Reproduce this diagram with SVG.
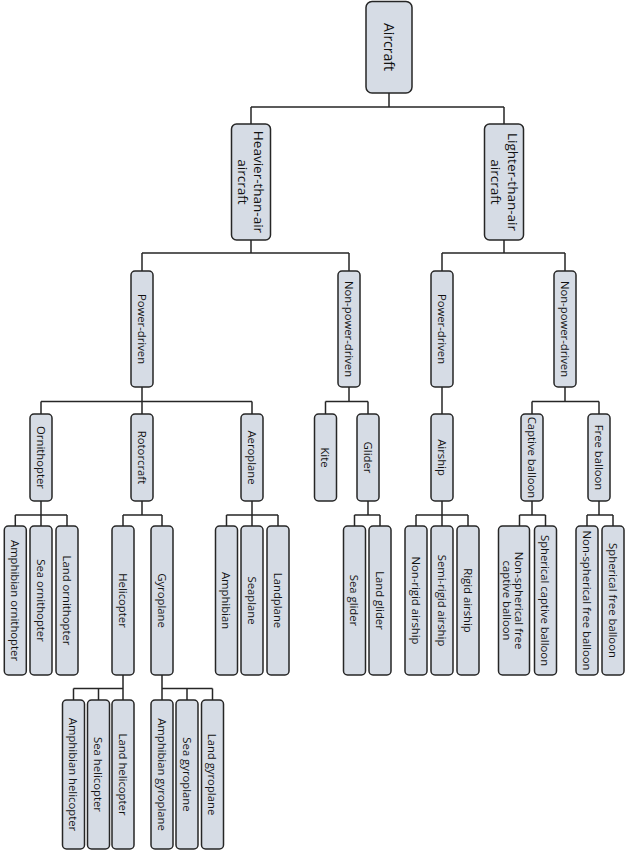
<svg xmlns="http://www.w3.org/2000/svg" width="625" height="850" viewBox="0 0 625 850">
<style>
.n rect{fill:#d6dce5;stroke:#262626;stroke-width:1.5}
.n text{font-family:"Open Sans","Liberation Sans",sans-serif;font-size:11.3px;fill:#111111;text-anchor:middle;dominant-baseline:central}
.c path{fill:none;stroke:#262626;stroke-width:1.5}
</style>
<rect width="625" height="850" fill="#ffffff"/>
<g class="c" id="connectors">
<path d="M389 93V107M251 107H504M251 107V124M504 107V124"/>
<path d="M251 240V253M142 253H349M142 253V271M349 253V271"/>
<path d="M504 240V253M442 253H565M442 253V271M565 253V271"/>
<path d="M142 387V401.5M41 401.5H252M41 401.5V414M142 401.5V414M252 401.5V414"/>
<path d="M349 387V401.5M325.5 401.5H368M325.5 401.5V414M368 401.5V414"/>
<path d="M442 387V414"/>
<path d="M565 387V401.5M532 401.5H599M532 401.5V414M599 401.5V414"/>
<path d="M41 501V515M15.3 515H67M15.3 515V526M41 515V526M67 515V526"/>
<path d="M142 501V515M123 515H162M123 515V526M162 515V526"/>
<path d="M252 501V515M226.5 515H278M226.5 515V526M252 515V526M278 515V526"/>
<path d="M368 501V515M354.5 515H380M354.5 515V526M380 515V526"/>
<path d="M442 501V515M416 515H468M416 515V526M442 515V526M468 515V526"/>
<path d="M532 501V515M519.5 515H545.5M519.5 515V526M545.5 515V526"/>
<path d="M599 501V515M587 515H613M587 515V526M613 515V526"/>
<path d="M123 675V688.5M73.5 688.5H123M73.5 688.5V700M98.5 688.5V700M123 688.5V700"/>
<path d="M162 675V688.5M162 688.5H212.5M162 688.5V700M187 688.5V700M212.5 688.5V700"/>
</g>
<g class="n" id="aircraft"><rect x="366" y="1.5" width="46" height="91.5" rx="6"/><text transform="translate(389 47) rotate(90)" style="font-size:14px">Aircraft</text></g>
<g class="n" id="heavier"><rect x="231.5" y="124" width="39" height="116" rx="5"/><text transform="translate(251 182) rotate(90)" style="font-size:13.5px"><tspan x="0" dy="-8">Heavier-than-air</tspan><tspan x="0" dy="16">aircraft</tspan></text></g>
<g class="n" id="lighter"><rect x="484.5" y="124" width="39" height="116" rx="5"/><text transform="translate(504 182) rotate(90)" style="font-size:13.5px"><tspan x="0" dy="-8.5">Lighter-than-air</tspan><tspan x="0" dy="17">aircraft</tspan></text></g>
<g class="n" id="hpower"><rect x="131" y="271" width="22" height="116" rx="4"/><text transform="translate(142 329) rotate(90)">Power-driven</text></g>
<g class="n" id="hnonpower"><rect x="338" y="271" width="22" height="116" rx="4"/><text transform="translate(349 329) rotate(90)">Non-power-driven</text></g>
<g class="n" id="lpower"><rect x="431" y="271" width="22" height="116" rx="4"/><text transform="translate(442 329) rotate(90)">Power-driven</text></g>
<g class="n" id="lnonpower"><rect x="554" y="271" width="22" height="116" rx="4"/><text transform="translate(565 329) rotate(90)">Non-power-driven</text></g>
<g class="n" id="ornithopter"><rect x="30" y="414" width="22" height="87" rx="4"/><text transform="translate(41 457.5) rotate(90)">Ornithopter</text></g>
<g class="n" id="rotorcraft"><rect x="131" y="414" width="22" height="87" rx="4"/><text transform="translate(142 457.5) rotate(90)">Rotorcraft</text></g>
<g class="n" id="aeroplane"><rect x="241" y="414" width="22" height="87" rx="4"/><text transform="translate(252 457.5) rotate(90)">Aeroplane</text></g>
<g class="n" id="kite"><rect x="314.5" y="414" width="22" height="87" rx="4"/><text transform="translate(325.5 457.5) rotate(90)">Kite</text></g>
<g class="n" id="glider"><rect x="357" y="414" width="22" height="87" rx="4"/><text transform="translate(368 457.5) rotate(90)">Glider</text></g>
<g class="n" id="airship"><rect x="431" y="414" width="22" height="87" rx="4"/><text transform="translate(442 457.5) rotate(90)">Airship</text></g>
<g class="n" id="captive"><rect x="521" y="414" width="22" height="87" rx="4"/><text transform="translate(532 457.5) rotate(90)">Captive balloon</text></g>
<g class="n" id="free"><rect x="588" y="414" width="22" height="87" rx="4"/><text transform="translate(599 457.5) rotate(90)">Free balloon</text></g>
<g class="n" id="amph-orn"><rect x="4.3" y="526" width="22" height="149" rx="4"/><text transform="translate(15.3 600.5) rotate(90)">Amphibian ornithopter</text></g>
<g class="n" id="sea-orn"><rect x="30" y="526" width="22" height="149" rx="4"/><text transform="translate(41 600.5) rotate(90)">Sea ornithopter</text></g>
<g class="n" id="land-orn"><rect x="56" y="526" width="22" height="149" rx="4"/><text transform="translate(67 600.5) rotate(90)">Land ornithopter</text></g>
<g class="n" id="helicopter"><rect x="112" y="526" width="22" height="149" rx="4"/><text transform="translate(123 600.5) rotate(90)">Helicopter</text></g>
<g class="n" id="gyroplane"><rect x="151" y="526" width="22" height="149" rx="4"/><text transform="translate(162 600.5) rotate(90)">Gyroplane</text></g>
<g class="n" id="amphibian"><rect x="215.5" y="526" width="22" height="149" rx="4"/><text transform="translate(226.5 600.5) rotate(90)">Amphibian</text></g>
<g class="n" id="seaplane"><rect x="241" y="526" width="22" height="149" rx="4"/><text transform="translate(252 600.5) rotate(90)">Seaplane</text></g>
<g class="n" id="landplane"><rect x="267" y="526" width="22" height="149" rx="4"/><text transform="translate(278 600.5) rotate(90)">Landplane</text></g>
<g class="n" id="sea-glider"><rect x="343.5" y="526" width="22" height="149" rx="4"/><text transform="translate(354.5 600.5) rotate(90)">Sea glider</text></g>
<g class="n" id="land-glider"><rect x="369" y="526" width="22" height="149" rx="4"/><text transform="translate(380 600.5) rotate(90)">Land glider</text></g>
<g class="n" id="nonrigid"><rect x="405" y="526" width="22" height="149" rx="4"/><text transform="translate(416 600.5) rotate(90)">Non-rigid airship</text></g>
<g class="n" id="semirigid"><rect x="431" y="526" width="22" height="149" rx="4"/><text transform="translate(442 600.5) rotate(90)">Semi-rigid airship</text></g>
<g class="n" id="rigid"><rect x="457" y="526" width="22" height="149" rx="4"/><text transform="translate(468 600.5) rotate(90)">Rigid airship</text></g>
<g class="n" id="nonsph-captive"><rect x="498.5" y="526" width="31" height="149" rx="4"/><text transform="translate(514 600.5) rotate(90)"><tspan x="0" dy="-6">Non-spherical free</tspan><tspan x="0" dy="12">captive balloon</tspan></text></g>
<g class="n" id="sph-captive"><rect x="534.5" y="526" width="22" height="149" rx="4"/><text transform="translate(545.5 600.5) rotate(90)">Spherical captive balloon</text></g>
<g class="n" id="nonsph-free"><rect x="576" y="526" width="22" height="149" rx="4"/><text transform="translate(587 600.5) rotate(90)">Non-spherical free balloon</text></g>
<g class="n" id="sph-free"><rect x="602" y="526" width="22" height="149" rx="4"/><text transform="translate(613 600.5) rotate(90)">Spherical free balloon</text></g>
<g class="n" id="amph-heli"><rect x="62.5" y="700" width="22" height="149" rx="4"/><text transform="translate(73.5 774.5) rotate(90)">Amphibian helicopter</text></g>
<g class="n" id="sea-heli"><rect x="87.5" y="700" width="22" height="149" rx="4"/><text transform="translate(98.5 774.5) rotate(90)">Sea helicopter</text></g>
<g class="n" id="land-heli"><rect x="112" y="700" width="22" height="149" rx="4"/><text transform="translate(123 774.5) rotate(90)">Land helicopter</text></g>
<g class="n" id="amph-gyro"><rect x="151" y="700" width="22" height="149" rx="4"/><text transform="translate(162 774.5) rotate(90)">Amphibian gyroplane</text></g>
<g class="n" id="sea-gyro"><rect x="176" y="700" width="22" height="149" rx="4"/><text transform="translate(187 774.5) rotate(90)">Sea gyroplane</text></g>
<g class="n" id="land-gyro"><rect x="201.5" y="700" width="22" height="149" rx="4"/><text transform="translate(212.5 774.5) rotate(90)">Land gyroplane</text></g>
</svg>
